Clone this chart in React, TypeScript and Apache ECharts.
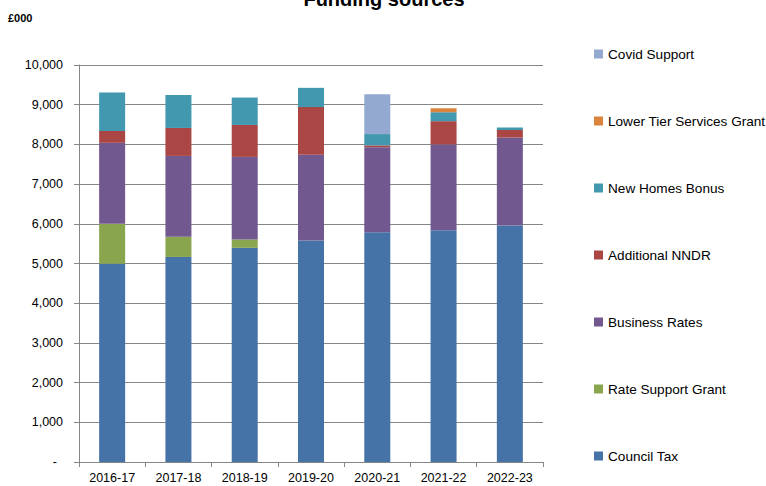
import React, { useEffect, useRef } from "react";
import * as echarts from "echarts";

const categories = ["2016-17", "2017-18", "2018-19", "2019-20", "2020-21", "2021-22", "2022-23"];
const councilTax = [4995, 5165, 5395, 5580, 5785, 5835, 5960];
const rateSupportGrant = [1005, 510, 210, 0, 0, 0, 0];
const businessRates = [2040, 2035, 2080, 2160, 2145, 2165, 2215];
const additionalNNDR = [300, 705, 805, 1200, 45, 585, 190];
const newHomesBonus = [965, 830, 690, 485, 285, 225, 60];
const lowerTierServicesGrant = [0, 0, 0, 0, 0, 100, 0];
const covidSupport = [0, 0, 0, 0, 1005, 0, 0];

const seriesDefs = [
  { name: "Council Tax", data: councilTax, color: "#4572A7" },
  { name: "Rate Support Grant", data: rateSupportGrant, color: "#89A54E" },
  { name: "Business Rates", data: businessRates, color: "#71588F" },
  { name: "Additional NNDR", data: additionalNNDR, color: "#AA4643" },
  { name: "New Homes Bonus", data: newHomesBonus, color: "#4198AF" },
  { name: "Lower Tier Services Grant", data: lowerTierServicesGrant, color: "#DB843D" },
  { name: "Covid Support", data: covidSupport, color: "#93A9CF" },
];

const legendOrder = [
  "Covid Support",
  "Lower Tier Services Grant",
  "New Homes Bonus",
  "Additional NNDR",
  "Business Rates",
  "Rate Support Grant",
  "Council Tax",
];

const FONT = "'Liberation Sans', Arial, sans-serif";

export default function App() {
  const ref = useRef<HTMLDivElement>(null);
  useEffect(() => {
    if (!ref.current) return;
    const chart = echarts.init(ref.current, undefined, { renderer: "svg" });
    const legendTop0 = 54;
    const legendStep = 67;
    chart.setOption({
      animation: false,
      textStyle: { fontFamily: FONT },
      grid: { left: 79, right: 223, top: 65, bottom: 24, containLabel: false },
      graphic: [
        {
          type: "text",
          x: 384,
          y: 9,
          style: {
            text: "Funding sources",
            align: "center",
            verticalAlign: "bottom",
            font: `bold 20px ${FONT}`,
            fill: "#000",
          },
        },
        {
          type: "text",
          x: 8,
          y: 12,
          style: {
            text: "£000",
            font: `bold 11px ${FONT}`,
            fill: "#000",
          },
        },
      ],
      legend: legendOrder.map((name, i) => ({
        orient: "vertical",
        left: 594,
        top: legendTop0 + i * legendStep - 8,
        padding: 0,
        itemWidth: 9,
        itemHeight: 9,
        icon: "rect",
        data: [name],
        selectedMode: false,
        textStyle: { fontSize: 13.6, color: "#000", fontFamily: FONT, lineHeight: 16 },
      })),
      xAxis: {
        type: "category",
        data: categories,
        axisLine: { lineStyle: { color: "#868686", width: 1 } },
        axisTick: { show: true, length: 5, lineStyle: { color: "#868686" } },
        axisLabel: { margin: 9, fontSize: 12.5, color: "#000", fontFamily: FONT, interval: 0 },
      },
      yAxis: {
        type: "value",
        min: 0,
        max: 10000,
        interval: 1000,
        axisLine: { show: true, lineStyle: { color: "#868686", width: 1 } },
        axisTick: { show: true, length: 5, lineStyle: { color: "#868686" } },
        splitLine: { show: true, lineStyle: { color: "#868686", width: 1 } },
        axisLabel: {
          margin: 16,
          fontSize: 12.5,
          color: "#000",
          fontFamily: FONT,
          formatter: (v: number) => (v === 0 ? "{d|-}" : v.toLocaleString("en-GB")),
          rich: { d: { padding: [0, 6, 0, 0], fontSize: 12.5, color: "#000", fontFamily: FONT } },
        },
      },
      series: seriesDefs.map((s) => ({
        name: s.name,
        type: "bar",
        stack: "total",
        barWidth: 26,
        data: s.data,
        itemStyle: { color: s.color },
        emphasis: { disabled: true },
      })),
    });
    return () => chart.dispose();
  }, []);
  return (
    <div
      ref={ref}
      style={{ position: "absolute", left: 0, top: 0, width: 766, height: 486 }}
    />
  );
}
